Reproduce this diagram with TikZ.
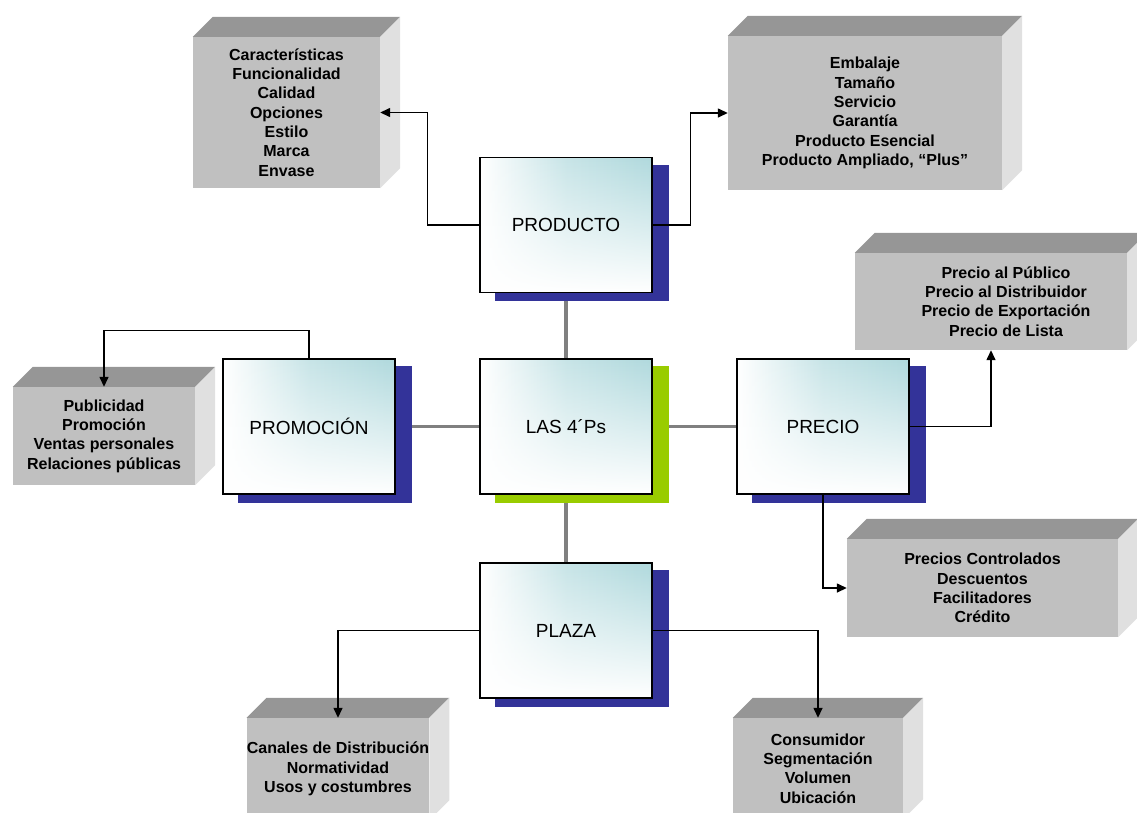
\documentclass[tikz,border=0pt]{standalone}
\usepackage{fontspec}
\setmainfont{Liberation Sans}
\usetikzlibrary{arrows.meta,fadings}

\definecolor{glow}{HTML}{B0D9DD}
\definecolor{shadeblue}{HTML}{333399}
\definecolor{shadegreen}{HTML}{99CC00}
\definecolor{facefront}{HTML}{C0C0C0}
\definecolor{facetop}{HTML}{969696}
\definecolor{faceside}{HTML}{E0E0E0}
\definecolor{spoke}{HTML}{808080}

% teal tint that is strong at the top and dies out towards the bottom
\tikzfading[name=fadedown, top color=transparent!0, middle color=transparent!25,
  bottom color=transparent!100]

\pgfdeclarelayer{background}
\pgfsetlayers{background,main}

\tikzset{
  pbox/.style={draw=black, line width=1.3pt, fill=white,
    minimum width=172pt, minimum height=135pt, inner sep=0pt,
    font=\fontsize{19}{22}\selectfont,
    path picture={\fill[left color=white, right color=glow, middle color=glow!70,
        path fading=fadedown]
      (path picture bounding box.south west) rectangle (path picture bounding box.north east);}},
  front/.style={fill=facefront, inner sep=0pt, align=center,
    font=\bfseries\fontsize{16}{19.3}\selectfont},
  facetext/.style={inner sep=0pt, align=center,
    font=\bfseries\fontsize{16}{19.3}\selectfont},
  link/.style={draw=black, line width=1.4pt, -{Triangle[length=10pt,width=9pt]}},
  spokeline/.style={draw=spoke, line width=3.5pt},
}

% top and right faces of a solid block whose front face is node #1
\newcommand\solidfaces[1]{%
  \fill[facetop] (#1.north west) -- ([shift={(20,-20)}]#1.north west)
    -- ([shift={(20,-20)}]#1.north east) -- (#1.north east) -- cycle;
  \fill[faceside] (#1.north east) -- ([shift={(20,-20)}]#1.north east)
    -- ([shift={(20,-20)}]#1.south east) -- (#1.south east) -- cycle;}

% offset backing rectangle behind a P box
\newcommand\backing[2]{%
  \fill[#2] ([shift={(16,8)}]#1.north west) rectangle ([shift={(16,8)}]#1.south east);}

\begin{document}
\begin{tikzpicture}[x=1pt, y=-1pt]
\useasboundingbox (0,0) rectangle (1137,812);

% the five P boxes
\node[pbox] (prod)  at (566,225)   {PRODUCTO};
\node[pbox] (las)   at (566,426.5) {LAS 4´Ps};
\node[pbox] (prom)  at (309,426.5) {PROMOCIÓN};
\node[pbox] (prec)  at (823,426.5) {PRECIO};
\node[pbox] (plaza) at (566,630.5) {PLAZA};

% spokes and backings sit behind the boxes
\begin{pgfonlayer}{background}
  \draw[spokeline] (las.north) -- (prod.south);
  \draw[spokeline] (las.west) -- (prom.east);
  \draw[spokeline] (las.east) -- (prec.west);
  \draw[spokeline] (las.south) -- (plaza.north);
  \backing{prod}{shadeblue}
  \backing{las}{shadegreen}
  \backing{prom}{shadeblue}
  \backing{prec}{shadeblue}
  \backing{plaza}{shadeblue}
\end{pgfonlayer}

% detail blocks
\node[front, minimum width=187pt, minimum height=151pt] (feat) at (286.5,112.5)
  {Características\\Funcionalidad\\Calidad\\Opciones\\Estilo\\Marca\\Envase};
\solidfaces{feat}

\node[front, minimum width=274pt, minimum height=154pt] (pack) at (865,113)
  {Embalaje\\Tamaño\\Servicio\\Garantía\\Producto Esencial\\Producto Ampliado, “Plus”};
\solidfaces{pack}

\node[front, minimum width=272pt, minimum height=97pt] (price) at (991,301.5) {};
\solidfaces{price}
\node[facetext] (pricetext) at (1006,301.5)
  {Precio al Público\\Precio al Distribuidor\\Precio de Exportación\\Precio de Lista};

\node[front, minimum width=182pt, minimum height=98pt] (adv) at (104,436)
  {Publicidad\\Promoción\\Ventas personales\\Relaciones públicas};
\solidfaces{adv}

\node[front, minimum width=271pt, minimum height=98pt] (ctrl) at (982.5,588)
  {Precios Controlados\\Descuentos\\Facilitadores\\Crédito};
\solidfaces{ctrl}

\node[front, minimum width=180pt, minimum height=102pt] (chan) at (338,769)
  {Canales de Distribución\\Normatividad\\Usos y costumbres};
\solidfaces{chan}

\node[front, minimum width=170pt, minimum height=101pt] (cons) at (818,768.5)
  {Consumidor\\Segmentación\\Volumen\\Ubicación};
\solidfaces{cons}

% connectors
\draw[link] (prod.west) -- ++(-52,0) |- (feat.east);
\draw[link] (prod.east) -- ++(38,0) |- (pack.west);
\draw[link] (prom.north) -- ++(0,-28) -| (adv.north);
\draw[link] (prec.east) -| (price.south);
\draw[link] (prec.south) |- (ctrl.west);
\draw[link] (plaza.west) -| (chan.north);
\draw[link] (plaza.east) -| (cons.north);
\end{tikzpicture}
\end{document}
